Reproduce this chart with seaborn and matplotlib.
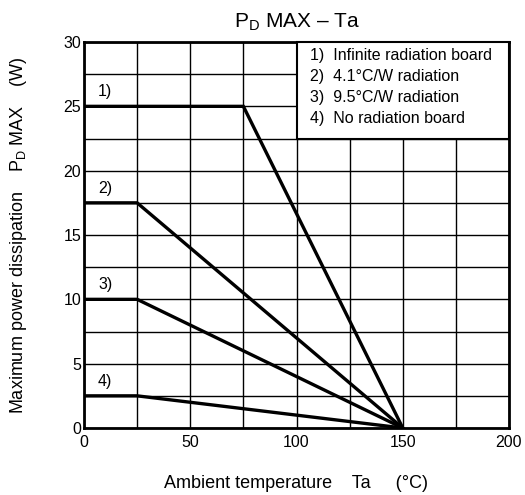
import matplotlib
matplotlib.use("Agg")
import matplotlib.pyplot as plt
import seaborn as sns
import pandas as pd
from matplotlib.patches import Rectangle

# Data
series_names = ["1)", "2)", "3)", "4)"]
temps_1 = [0, 75, 150]
power_1 = [25, 25, 0]
temps_2 = [0, 25, 150]
power_2 = [17.5, 17.5, 0]
temps_3 = [0, 25, 150]
power_3 = [10, 10, 0]
temps_4 = [0, 25, 150]
power_4 = [2.5, 2.5, 0]
legend_lines = ["1)  Infinite radiation board", "2)  4.1°C/W radiation",
                "3)  9.5°C/W radiation", "4)  No radiation board"]
x_ticks = [0, 50, 100, 150, 200]
y_ticks = [0, 5, 10, 15, 20, 25, 30]

rows = []
for name, xs, ys in zip(series_names, [temps_1, temps_2, temps_3, temps_4],
                        [power_1, power_2, power_3, power_4]):
    for x, y in zip(xs, ys):
        rows.append({"series": name, "Ta": x, "Pd": y})
df = pd.DataFrame(rows)

sns.set_theme(style="white")
plt.rcParams['font.family'] = ['Liberation Sans', 'DejaVu Sans']
plt.rcParams['mathtext.fontset'] = 'custom'
plt.rcParams['mathtext.rm'] = 'Liberation Sans'
plt.rcParams['mathtext.it'] = 'Liberation Sans'

fig = plt.figure(figsize=(5.25, 4.95), dpi=100)
ax = fig.add_axes([84/525, 1-428/495, (509-84)/525, (428-42)/495])

sns.lineplot(data=df, x="Ta", y="Pd", units="series", estimator=None,
             color="black", lw=2.4, ax=ax, legend=False, zorder=3,
             solid_joinstyle="miter")

ax.set_xlim(0, 200)
ax.set_ylim(0, 30)
ax.set_xticks(range(0, 201, 25), minor=False)
ax.set_xticklabels([str(v) if v in x_ticks else "" for v in range(0, 201, 25)])
ax.set_yticks([v * 2.5 for v in range(13)])
ax.set_yticklabels([("%g" % (v * 2.5)) if (v * 2.5) in y_ticks else "" for v in range(13)])
ax.grid(True, color="black", lw=1.0)
ax.tick_params(axis="x", length=0, labelsize=11.5, colors="black", pad=5)
ax.tick_params(axis="y", length=0, labelsize=11.5, colors="black", pad=2)
for s in ax.spines.values():
    s.set_color("black")
    s.set_linewidth(2.0)

# Curve labels
for name, ys in zip(series_names, [power_1, power_2, power_3, power_4]):
    ax.text(10, ys[0] + 1.15, name, ha="center", va="center", fontsize=11.5, color="black")

# Legend box
ax.add_patch(Rectangle((100, 22.5), 100, 7.5, facecolor="white", edgecolor="black",
                       lw=1.5, zorder=4, clip_on=False))
for i, t in enumerate(legend_lines):
    ax.text(106.5, 28.95 - i * 1.62, t, ha="left", va="center", fontsize=11.5,
            color="black", zorder=5)

ax.set_title(r"P$_{\rm D}$ MAX – Ta", fontsize=15, pad=10, color="black")
ax.set_xlabel("Ambient temperature    Ta     (°C)", fontsize=13, labelpad=18, color="black")
ax.set_ylabel(r"Maximum power dissipation    P$_{\rm D}$ MAX    (W)", fontsize=13,
              labelpad=25, color="black")

fig.savefig("out.png", dpi=100)
